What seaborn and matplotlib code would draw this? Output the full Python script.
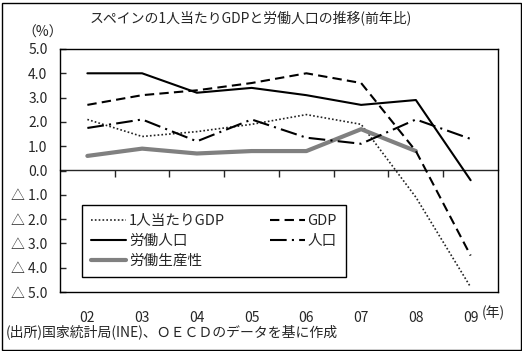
import numpy as np
import pandas as pd
import matplotlib
matplotlib.use("Agg")
import matplotlib.pyplot as plt
import matplotlib.patches as mpatches
import seaborn as sns

# data (year-on-year %)
years = ["02", "03", "04", "05", "06", "07", "08", "09"]
gdp_per_capita = [2.1, 1.4, 1.6, 1.9, 2.3, 1.9, -1.1, -4.8]
gdp = [2.7, 3.1, 3.3, 3.6, 4.0, 3.6, 0.8, -3.5]
labor_force = [4.0, 4.0, 3.2, 3.4, 3.1, 2.7, 2.9, -0.4]
population = [1.75, 2.1, 1.2, 2.1, 1.35, 1.1, 2.1, 1.3]
productivity = [0.6, 0.9, 0.7, 0.8, 0.8, 1.7, 0.8, np.nan]

series_names = ["1人当たりGDP", "労働人口", "労働生産性", "GDP", "人口"]
series_values = [gdp_per_capita, labor_force, productivity, gdp, population]

y_ticks = [5, 4, 3, 2, 1, 0, -1, -2, -3, -4, -5]

styles = {
    "1人当たりGDP": dict(color="#222222", lw=1.2, ls=(0, (1, 1.3))),
    "労働人口": dict(color="black", lw=1.5, ls="-"),
    "労働生産性": dict(color="#808080", lw=3.0, ls="-"),
    "GDP": dict(color="black", lw=1.5, ls=(0, (4.5, 2.5))),
    "人口": dict(color="black", lw=1.5, ls=(0, (8, 2.5, 1, 2.5))),
}

rows = []
for name, vals in zip(series_names, series_values):
    for i, (yr, v) in enumerate(zip(years, vals)):
        rows.append({"series": name, "pos": i, "year": yr, "value": v})
df = pd.DataFrame(rows)

sns.set_style("white")
plt.rcParams["font.family"] = ["Noto Sans CJK JP", "DejaVu Sans"]
plt.rcParams["font.size"] = 10

fig = plt.figure(figsize=(5.22, 3.51), dpi=100)
ax = fig.add_axes([60 / 522, 1 - 292 / 351, 438 / 522, 243 / 351])

for name in series_names:
    sub = df[df["series"] == name].dropna()
    st = styles[name]
    sns.lineplot(data=sub, x="pos", y="value", ax=ax, color=st["color"],
                 linewidth=st["lw"], linestyle=st["ls"], label=name,
                 estimator=None, sort=False)

ax.set_xlim(-0.5, len(years) - 0.5)
ax.set_ylim(-5, 5)
ax.set_xlabel("")
ax.set_ylabel("")

for sp in ax.spines.values():
    sp.set_visible(True)
    sp.set_color("black")
    sp.set_linewidth(1.0)

ax.set_xticks(range(len(years)))
ax.set_xticklabels(years)
ax.tick_params(axis="x", length=0, pad=14, labelsize=10)

def fmt(v):
    if v < 0:
        return "△ {:.1f}".format(-v)
    return "{:.1f}".format(v)

ax.set_yticks(y_ticks)
ax.set_yticklabels([fmt(v) for v in y_ticks])
ax.tick_params(axis="y", direction="in", length=4, width=1, pad=9,
               labelsize=10, left=True)

# zero line with category separator ticks
sec = ax.secondary_xaxis(0.5)
sec.set_xticks(np.arange(len(years) - 1) + 0.5)
sec.tick_params(direction="in", length=5, width=1, labeltop=False,
                labelbottom=False)
sec.spines["top"].set_linewidth(1.0)
sec.spines["bottom"].set_linewidth(1.0)

leg = ax.legend(loc="lower left", bbox_to_anchor=(0.034, 0.033, 0.635, 0.34),
                mode="expand", ncol=2, frameon=True, fancybox=False,
                edgecolor="black", framealpha=1, fontsize=10.5,
                handlelength=2.4, handletextpad=0.2, labelspacing=0.42,
                borderpad=0.6)
leg.get_frame().set_linewidth(1.0)

fig.text(482 / 522, 1 - 313 / 351, "(年)", ha="left", va="center", fontsize=10)
fig.text(22 / 522, 1 - 33 / 351, "（%）", ha="left", va="center", fontsize=10)

fig.text(251 / 522, 1 - 18 / 351, "スペインの1人当たりGDPと労働人口の推移(前年比)",
         ha="center", va="center", fontsize=10)
fig.text(6 / 522, 1 - 332 / 351, "(出所)国家統計局(INE)、ＯＥＣＤのデータを基に作成",
         ha="left", va="center", fontsize=10)

fig.patches.append(mpatches.Rectangle((1.5 / 522, 1.5 / 351), 519 / 522, 347 / 351,
                                      transform=fig.transFigure, fill=False,
                                      edgecolor="black", linewidth=1.0))

fig.savefig("out.png", dpi=100)
